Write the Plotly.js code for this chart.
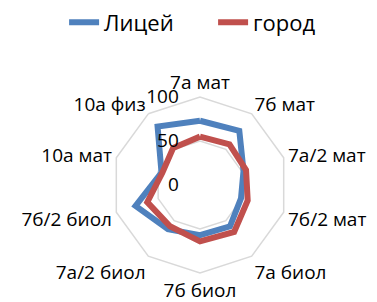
<!DOCTYPE html>
<html>
<head>
<meta charset="utf-8">
<script src="https://cdn.plot.ly/plotly-3.0.1.min.js"></script>
<style>html,body{margin:0;padding:0;background:#fff;}#chart{width:377px;height:302px;}</style>
</head>
<body>
<div id="chart"></div>
<script>
const categories = ["7а мат", "7б мат", "7а/2 мат", "7б/2 мат", "7а биол", "7б биол", "7а/2 биол", "7б/2 биол", "10а мат", "10а физ"];
const litsey = [73, 76, 52, 49, 58, 57, 62, 77, 46, 82];
const gorod = [55, 57, 55, 57, 66, 64, 58, 63, 45, 52];
const radialTicks = [0, 50, 100];

function closed(arr) { return arr.concat([arr[0]]); }

const traces = [
  {type: "scatterpolar", mode: "lines", name: "Лицей", r: closed(litsey), theta: closed(categories),
   line: {color: "#4f81bd", width: 6}},
  {type: "scatterpolar", mode: "lines", name: "город", r: closed(gorod), theta: closed(categories),
   line: {color: "#c0504d", width: 6}}
];

const layout = {
  width: 377, height: 302,
  margin: {l: 0, r: 0, t: 0, b: 0},
  paper_bgcolor: "#fff",
  font: {family: "Open Sans, sans-serif", size: 19, color: "#000"},
  showlegend: true,
  legend: {orientation: "h", x: 0.17, xanchor: "left", y: 0.995, yanchor: "top",
           entrywidth: 104, entrywidthmode: "pixels",
           font: {size: 22}},
  polar: {
    domain: {x: [0.2971, 0.7639], y: [0.096, 0.6788]},
    gridshape: "linear",
    bgcolor: "#fff",
    angularaxis: {rotation: 90, direction: "clockwise", showline: true, linecolor: "#d9d9d9", linewidth: 1.5,
                  showgrid: false, ticks: "", tickfont: {size: 19}},
    radialaxis: {range: [0, 100], tickvals: radialTicks, ticktext: radialTicks.map(String), angle: 90,
                 showline: false, ticks: "outside", ticklen: 14, tickcolor: "rgba(0,0,0,0)", gridcolor: "#d9d9d9", gridwidth: 1.5,
                 side: "counterclockwise", tickfont: {size: 19}, tickangle: 90}
  }
};

Plotly.newPlot("chart", traces, layout, {displayModeBar: false, staticPlot: true});
</script>
</body>
</html>
